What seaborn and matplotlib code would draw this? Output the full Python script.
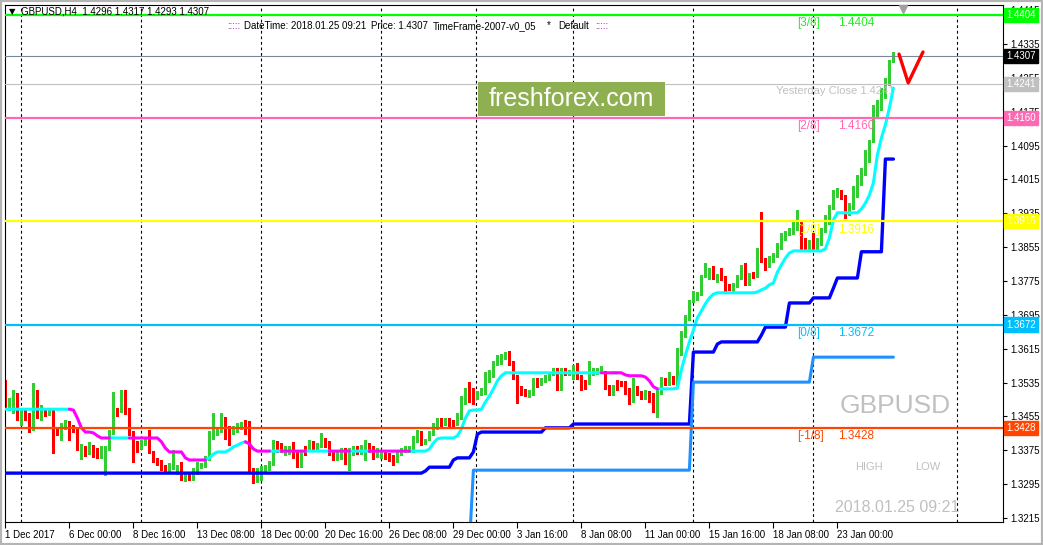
import numpy as np
import pandas as pd
import matplotlib
matplotlib.use("Agg")
import matplotlib.pyplot as plt
from matplotlib.patches import Rectangle
import seaborn as sns

# =========================
# DATA  (GBPUSD H4, 1 Dec 2017 - 25 Jan 2018)
# =========================

opens = [
    1.3534, 1.3477, 1.3475, 1.3506, 1.3439, 1.3465, 1.3458, 1.3428, 1.3506, 1.3451,
    1.3465, 1.3463, 1.3465, 1.3423, 1.3416, 1.3430, 1.3439, 1.3430, 1.3423, 1.3376,
    1.3380, 1.3371, 1.3383, 1.3376, 1.3361, 1.3376, 1.3380, 1.3418, 1.3470, 1.3470,
    1.3513, 1.3470, 1.3416, 1.3392, 1.3383, 1.3392, 1.3395, 1.3369, 1.3352, 1.3347,
    1.3335, 1.3331, 1.3335, 1.3324, 1.3343, 1.3310, 1.3317, 1.3310, 1.3324, 1.3338,
    1.3340, 1.3357, 1.3406, 1.3416, 1.3423, 1.3449, 1.3428, 1.3418, 1.3423, 1.3430,
    1.3439, 1.3439, 1.3328, 1.3305, 1.3310, 1.3328, 1.3333, 1.3345, 1.3392, 1.3387,
    1.3369, 1.3371, 1.3380, 1.3369, 1.3340, 1.3380, 1.3380, 1.3392, 1.3380, 1.3387,
    1.3399, 1.3392, 1.3371, 1.3357, 1.3359, 1.3376, 1.3364, 1.3369, 1.3380, 1.3371,
    1.3371, 1.3387, 1.3380, 1.3364, 1.3361, 1.3369, 1.3364, 1.3359, 1.3352, 1.3369,
    1.3376, 1.3376, 1.3376, 1.3399, 1.3416, 1.3395, 1.3404, 1.3416, 1.3430, 1.3447,
    1.3439, 1.3447, 1.3442, 1.3439, 1.3454, 1.3489, 1.3522, 1.3517, 1.3501, 1.3510,
    1.3513, 1.3541, 1.3553, 1.3581, 1.3584, 1.3595, 1.3600, 1.3581, 1.3548, 1.3522,
    1.3515, 1.3506, 1.3510, 1.3541, 1.3534, 1.3541, 1.3546, 1.3558, 1.3565, 1.3522,
    1.3565, 1.3558, 1.3548, 1.3577, 1.3548, 1.3536, 1.3536, 1.3558, 1.3560, 1.3565,
    1.3558, 1.3525, 1.3510, 1.3536, 1.3534, 1.3534, 1.3517, 1.3494, 1.3522, 1.3510,
    1.3501, 1.3510, 1.3506, 1.3477, 1.3513, 1.3541, 1.3534, 1.3546, 1.3534, 1.3605,
    1.3647, 1.3688, 1.3730, 1.3735, 1.3747, 1.3789, 1.3784, 1.3806, 1.3777, 1.3801,
    1.3782, 1.3763, 1.3754, 1.3766, 1.3784, 1.3813, 1.3770, 1.3792, 1.3789, 1.3844,
    1.3825, 1.3813, 1.3825, 1.3836, 1.3855, 1.3877, 1.3888, 1.3891, 1.3900, 1.3912,
    1.3872, 1.3853, 1.3884, 1.3855, 1.3865, 1.3896, 1.3914, 1.3950, 1.3978, 1.3985,
    1.3974, 1.3936, 1.3950, 1.3983, 1.4009, 1.4033, 1.4066, 1.4108, 1.4174, 1.4186,
    1.4215, 1.4243, 1.4296,
]

highs = [
    1.3541, 1.3498, 1.3517, 1.3510, 1.3475, 1.3470, 1.3463, 1.3534, 1.3517, 1.3482,
    1.3470, 1.3472, 1.3470, 1.3428, 1.3439, 1.3447, 1.3444, 1.3435, 1.3428, 1.3390,
    1.3385, 1.3395, 1.3387, 1.3380, 1.3385, 1.3385, 1.3423, 1.3513, 1.3475, 1.3517,
    1.3517, 1.3475, 1.3420, 1.3397, 1.3399, 1.3402, 1.3423, 1.3373, 1.3357, 1.3352,
    1.3340, 1.3345, 1.3376, 1.3340, 1.3347, 1.3319, 1.3321, 1.3333, 1.3347, 1.3345,
    1.3361, 1.3420, 1.3463, 1.3428, 1.3463, 1.3454, 1.3432, 1.3432, 1.3439, 1.3442,
    1.3447, 1.3444, 1.3333, 1.3333, 1.3338, 1.3340, 1.3350, 1.3399, 1.3397, 1.3392,
    1.3385, 1.3385, 1.3395, 1.3373, 1.3373, 1.3385, 1.3399, 1.3397, 1.3392, 1.3416,
    1.3404, 1.3397, 1.3376, 1.3373, 1.3380, 1.3380, 1.3380, 1.3385, 1.3385, 1.3387,
    1.3399, 1.3392, 1.3385, 1.3380, 1.3373, 1.3373, 1.3369, 1.3364, 1.3373, 1.3380,
    1.3385, 1.3385, 1.3409, 1.3423, 1.3420, 1.3402, 1.3420, 1.3439, 1.3451, 1.3451,
    1.3451, 1.3451, 1.3447, 1.3463, 1.3503, 1.3522, 1.3536, 1.3522, 1.3515, 1.3522,
    1.3560, 1.3565, 1.3586, 1.3600, 1.3603, 1.3607, 1.3610, 1.3586, 1.3553, 1.3527,
    1.3520, 1.3517, 1.3546, 1.3546, 1.3546, 1.3553, 1.3558, 1.3569, 1.3569, 1.3569,
    1.3569, 1.3565, 1.3577, 1.3581, 1.3553, 1.3541, 1.3586, 1.3569, 1.3569, 1.3574,
    1.3562, 1.3529, 1.3529, 1.3541, 1.3539, 1.3539, 1.3522, 1.3546, 1.3527, 1.3515,
    1.3517, 1.3515, 1.3510, 1.3522, 1.3548, 1.3546, 1.3560, 1.3551, 1.3617, 1.3657,
    1.3695, 1.3730, 1.3751, 1.3749, 1.3789, 1.3818, 1.3806, 1.3810, 1.3792, 1.3806,
    1.3787, 1.3768, 1.3770, 1.3789, 1.3813, 1.3818, 1.3794, 1.3796, 1.3853, 1.3938,
    1.3829, 1.3834, 1.3841, 1.3865, 1.3888, 1.3893, 1.3900, 1.3919, 1.3943, 1.3917,
    1.3877, 1.3872, 1.3888, 1.3877, 1.3900, 1.3931, 1.3955, 1.3990, 1.3995, 1.3990,
    1.3978, 1.3959, 1.3999, 1.4026, 1.4042, 1.4085, 1.4108, 1.4191, 1.4203, 1.4231,
    1.4255, 1.4297, 1.4317,
]

lows = [
    1.3475, 1.3470, 1.3463, 1.3447, 1.3435, 1.3447, 1.3418, 1.3423, 1.3451, 1.3447,
    1.3456, 1.3458, 1.3369, 1.3411, 1.3399, 1.3425, 1.3399, 1.3418, 1.3376, 1.3354,
    1.3361, 1.3366, 1.3359, 1.3357, 1.3357, 1.3317, 1.3376, 1.3413, 1.3456, 1.3465,
    1.3461, 1.3411, 1.3347, 1.3371, 1.3378, 1.3387, 1.3369, 1.3347, 1.3340, 1.3328,
    1.3324, 1.3326, 1.3331, 1.3319, 1.3305, 1.3302, 1.3305, 1.3305, 1.3319, 1.3333,
    1.3335, 1.3352, 1.3402, 1.3411, 1.3418, 1.3402, 1.3387, 1.3413, 1.3418, 1.3425,
    1.3413, 1.3324, 1.3298, 1.3300, 1.3305, 1.3324, 1.3328, 1.3340, 1.3371, 1.3371,
    1.3364, 1.3366, 1.3357, 1.3335, 1.3335, 1.3364, 1.3376, 1.3376, 1.3376, 1.3383,
    1.3383, 1.3364, 1.3352, 1.3352, 1.3354, 1.3343, 1.3328, 1.3364, 1.3366, 1.3366,
    1.3352, 1.3371, 1.3354, 1.3359, 1.3357, 1.3354, 1.3350, 1.3340, 1.3347, 1.3364,
    1.3371, 1.3371, 1.3371, 1.3395, 1.3387, 1.3390, 1.3399, 1.3411, 1.3425, 1.3430,
    1.3435, 1.3428, 1.3430, 1.3435, 1.3449, 1.3484, 1.3489, 1.3484, 1.3496, 1.3506,
    1.3508, 1.3536, 1.3548, 1.3577, 1.3579, 1.3591, 1.3577, 1.3543, 1.3487, 1.3506,
    1.3503, 1.3501, 1.3506, 1.3525, 1.3529, 1.3536, 1.3541, 1.3553, 1.3517, 1.3517,
    1.3553, 1.3553, 1.3543, 1.3543, 1.3517, 1.3520, 1.3532, 1.3553, 1.3555, 1.3560,
    1.3520, 1.3506, 1.3506, 1.3517, 1.3527, 1.3508, 1.3484, 1.3489, 1.3506, 1.3496,
    1.3496, 1.3489, 1.3465, 1.3454, 1.3508, 1.3529, 1.3529, 1.3532, 1.3529, 1.3600,
    1.3643, 1.3683, 1.3725, 1.3730, 1.3742, 1.3784, 1.3780, 1.3780, 1.3773, 1.3777,
    1.3749, 1.3754, 1.3749, 1.3761, 1.3780, 1.3766, 1.3766, 1.3782, 1.3784, 1.3820,
    1.3801, 1.3808, 1.3820, 1.3832, 1.3851, 1.3872, 1.3884, 1.3886, 1.3896, 1.3848,
    1.3848, 1.3848, 1.3851, 1.3851, 1.3860, 1.3891, 1.3910, 1.3945, 1.3974, 1.3969,
    1.3924, 1.3931, 1.3945, 1.3974, 1.4002, 1.4026, 1.4056, 1.4104, 1.4165, 1.4179,
    1.4207, 1.4238, 1.4293,
]

closes = [
    1.3482, 1.3489, 1.3506, 1.3454, 1.3470, 1.3454, 1.3428, 1.3506, 1.3458, 1.3470,
    1.3463, 1.3465, 1.3418, 1.3418, 1.3435, 1.3439, 1.3428, 1.3423, 1.3380, 1.3385,
    1.3369, 1.3390, 1.3369, 1.3364, 1.3380, 1.3380, 1.3418, 1.3470, 1.3463, 1.3510,
    1.3465, 1.3416, 1.3392, 1.3376, 1.3392, 1.3395, 1.3371, 1.3352, 1.3345, 1.3333,
    1.3328, 1.3340, 1.3343, 1.3335, 1.3310, 1.3314, 1.3310, 1.3328, 1.3343, 1.3340,
    1.3357, 1.3416, 1.3418, 1.3423, 1.3451, 1.3406, 1.3406, 1.3428, 1.3435, 1.3435,
    1.3418, 1.3328, 1.3305, 1.3328, 1.3333, 1.3335, 1.3345, 1.3395, 1.3376, 1.3376,
    1.3380, 1.3380, 1.3369, 1.3340, 1.3369, 1.3369, 1.3395, 1.3380, 1.3387, 1.3402,
    1.3387, 1.3369, 1.3357, 1.3369, 1.3376, 1.3347, 1.3376, 1.3380, 1.3371, 1.3383,
    1.3387, 1.3376, 1.3359, 1.3376, 1.3369, 1.3359, 1.3357, 1.3345, 1.3369, 1.3376,
    1.3380, 1.3380, 1.3404, 1.3416, 1.3392, 1.3397, 1.3416, 1.3435, 1.3442, 1.3435,
    1.3447, 1.3435, 1.3435, 1.3458, 1.3498, 1.3510, 1.3494, 1.3489, 1.3510, 1.3517,
    1.3543, 1.3553, 1.3581, 1.3595, 1.3598, 1.3603, 1.3581, 1.3548, 1.3522, 1.3510,
    1.3508, 1.3513, 1.3541, 1.3529, 1.3541, 1.3548, 1.3553, 1.3565, 1.3522, 1.3565,
    1.3558, 1.3560, 1.3572, 1.3548, 1.3522, 1.3525, 1.3581, 1.3565, 1.3565, 1.3569,
    1.3525, 1.3510, 1.3525, 1.3522, 1.3532, 1.3513, 1.3489, 1.3541, 1.3510, 1.3501,
    1.3513, 1.3494, 1.3482, 1.3517, 1.3541, 1.3534, 1.3541, 1.3536, 1.3612, 1.3652,
    1.3690, 1.3725, 1.3747, 1.3744, 1.3784, 1.3806, 1.3801, 1.3784, 1.3787, 1.3784,
    1.3761, 1.3758, 1.3766, 1.3784, 1.3808, 1.3770, 1.3789, 1.3787, 1.3848, 1.3825,
    1.3813, 1.3829, 1.3836, 1.3860, 1.3872, 1.3888, 1.3896, 1.3903, 1.3912, 1.3853,
    1.3853, 1.3867, 1.3855, 1.3872, 1.3896, 1.3926, 1.3950, 1.3985, 1.3990, 1.3974,
    1.3936, 1.3955, 1.3983, 1.4014, 1.4037, 1.4073, 1.4101, 1.4179, 1.4191, 1.4222,
    1.4243, 1.4292, 1.4307,
]

# trailing stop indicator (cyan = up, magenta = down)
trail = ([1.3472] * 17
         + [1.3470, 1.3451, 1.3428, 1.3418, 1.3418, 1.3416, 1.3409]
         + [1.3404] * 15 + [1.3395, 1.3380] + [1.3371] * 4 + [1.3357] + [1.3352] * 5
         + [1.3357, 1.3366, 1.3371, 1.3371, 1.3371, 1.3376, 1.3383, 1.3387, 1.3392, 1.3395, 1.3390, 1.3378]
         + [1.3373] * 43 + [1.3378, 1.3392, 1.3402] + [1.3404] * 4
         + [1.3409, 1.3425, 1.3451, 1.3468, 1.3470, 1.3470, 1.3472, 1.3489, 1.3503, 1.3520, 1.3539, 1.3551]
         + [1.3558] * 30 + [1.3553, 1.3551, 1.3551, 1.3551, 1.3551, 1.3548, 1.3539, 1.3525]
         + [1.3520] * 5
         + [1.3522, 1.3565, 1.3600, 1.3631, 1.3659, 1.3688, 1.3704, 1.3721, 1.3735, 1.3744]
         + [1.3747] * 10 + [1.3749, 1.3754, 1.3758, 1.3766, 1.3770, 1.3796, 1.3813, 1.3829, 1.3841]
         + [1.3846] * 8 + [1.3851, 1.3877, 1.3919] + [1.3936] * 6
         + [1.3945, 1.3959, 1.3978, 1.4007, 1.4073, 1.4113, 1.4144, 1.4184, 1.4231])

trend_runs = [("U", 17), ("D", 10), ("U", 5), ("D", 19), ("U", 10), ("D", 6), ("U", 3),
              ("D", 6), ("U", 6), ("D", 5), ("U", 5), ("D", 10), ("U", 48), ("D", 3),
              ("U", 1), ("D", 10), ("U", 59)]

# lower step bands
blue_band = ([1.3321] * 105 + [1.3326] + [1.3335] * 6 + [1.3352] + [1.3357] * 4 + [1.3371, 1.3413]
             + [1.3418] * 16 + [1.3428] * 7 + [1.3437] * 30 + [1.3607] * 6 + [1.3626]
             + [1.3631] * 10 + [1.3647] + [1.3666] * 6 + [1.3723] * 6 + [1.3735] * 5 + [1.3758]
             + [1.3782] * 6 + [1.3844] * 6 + [1.4063] * 3)
dodger_band = [np.nan] * 116 + [1.3150] + [1.3328] * 55 + [1.3536] * 30 + [1.3595] * 21

# horizontal levels
levels = [1.4404, 1.4307, 1.4241, 1.4160, 1.3916, 1.3672, 1.3428]
level_colors = ["#00ff00", "#778899", "#c0c0c0", "#ff69b4", "#ffff00", "#00bfff", "#ff4500"]
level_widths = [1.6, 0.8, 0.8, 1.6, 1.6, 1.6, 1.6]
level_box_colors = ["#00ff00", "#000000", "#c0c0c0", "#ff69b4", "#ffff00", "#00bfff", "#ff4500"]

murrey_names = ["[3/8]", "[2/8]", "[1/8]", "[0/8]", "[-1/8]"]
murrey_levels = [1.4404, 1.4160, 1.3916, 1.3672, 1.3428]
murrey_colors = ["#22ee22", "#ff69b4", "#ffff00", "#00bfff", "#ff4500"]

price_ticks = [1.3215, 1.3295, 1.3375, 1.3455, 1.3535, 1.3615, 1.3695, 1.3775,
               1.3855, 1.3935, 1.4015, 1.4095, 1.4175, 1.4255, 1.4335, 1.4415]
date_ticks = [0, 16, 32, 48, 64, 80, 96, 112, 128, 144, 160, 176, 192, 208]
date_labels = ["1 Dec 2017", "6 Dec 00:00", "8 Dec 16:00", "13 Dec 08:00", "18 Dec 00:00",
               "20 Dec 16:00", "26 Dec 08:00", "29 Dec 00:00", "3 Jan 16:00", "8 Jan 08:00",
               "11 Jan 00:00", "15 Jan 16:00", "18 Jan 08:00", "23 Jan 00:00"]
grid_bars = [4, 34, 64, 94, 117.7, 142, 172, 202, 238]

check_x = [223.4, 225.7, 229.4]
check_y = [1.4311, 1.4243, 1.4316]

# =========================
# FIGURE
# =========================

sns.set_style("white")
plt.rcParams["font.family"] = ["Liberation Sans", "DejaVu Sans"]

df = pd.DataFrame({"bar": np.arange(len(closes)), "open": opens, "high": highs, "low": lows,
                   "close": closes, "trail": trail, "blue": blue_band, "dodger": dodger_band})
trend = np.array([t for t, n in trend_runs for _ in range(n)])

fig = plt.figure(figsize=(10.43, 5.45), dpi=100)
fig.patch.set_facecolor("white")
ax = fig.add_axes([5 / 1043, 23 / 545, 998 / 1043, 517 / 545])
ax.set_facecolor("white")
ax.set_xlim(-0.1, 249.4)
ax.set_ylim(1.32055, 1.4427)

for gb in grid_bars:
    ax.axvline(gb, color="black", lw=0.8, ls=(0, (2.5, 2.5)), zorder=0.5)

# candles
bull = (df["close"] >= df["open"]).values
cols = np.where(bull, "#32cd32", "#ff0000")
ax.vlines(df["bar"], df["low"], df["high"], colors=cols, linewidth=0.75,
          antialiased=False, zorder=2)
body_low = np.minimum(df["open"], df["close"])
body_h = np.maximum((df["close"] - df["open"]).abs(), 0.00018)
ax.bar(df["bar"], body_h, bottom=body_low, width=0.78, color=cols, linewidth=0,
       antialiased=False, zorder=2.1)

# trailing line
is_up = trend == "U"
show_up = is_up | np.append(is_up[1:], False)
show_dn = ~is_up | np.append(~is_up[1:], False)
ax.plot(df["bar"], np.where(show_up, df["trail"], np.nan), color="#00ffff", lw=2.2, zorder=3)
ax.plot(df["bar"], np.where(show_dn, df["trail"], np.nan), color="#ff00ff", lw=2.2, zorder=3.1)

# step bands
sns.lineplot(data=df, x="bar", y="blue", color="#0000ff", linewidth=2.4,
             estimator=None, sort=False, ax=ax, zorder=3.2)
sns.lineplot(data=df.dropna(subset=["dodger"]), x="bar", y="dodger", color="#1e90ff",
             linewidth=2.2, estimator=None, sort=False, ax=ax, zorder=3.2)

# horizontal levels + right-hand price boxes
for lv, c, w, bc in zip(levels, level_colors, level_widths, level_box_colors):
    ax.axhline(lv, color=c, lw=w, zorder=4)
    ax.annotate(f"{lv:.4f}", xy=(1, lv), xycoords=("axes fraction", "data"),
                xytext=(2.4, 0), textcoords="offset points", ha="left", va="center",
                color="white", fontsize=7, annotation_clip=False, zorder=6,
                bbox=dict(boxstyle="square,pad=0.22", fc=bc, ec=bc))

for name, lv, c in zip(murrey_names, murrey_levels, murrey_colors):
    ax.text(197.9, lv - 0.0020, name, color=c, fontsize=8.5, va="center", ha="left", zorder=5)
    ax.text(208.2, lv - 0.0020, f"{lv:.4f}", color=c, fontsize=8.5, va="center", ha="left", zorder=5)

ax.text(192.7, 1.4241 - 0.0017, "Yesterday Close 1.4241", color="#c0c0c0", fontsize=8,
        va="center", ha="left", zorder=5)

ax.plot(check_x, check_y, color="#ff0000", lw=2.4, clip_on=False, zorder=6)
ax.plot([224.4], [0.992], marker="v", ms=6, color="#a0a0a0",
        transform=ax.get_xaxis_transform(), clip_on=False, zorder=6)

# axes
ax.yaxis.tick_right()
ax.set_yticks(price_ticks)
ax.set_yticklabels([f"{v:.4f}" for v in price_ticks])
ax.set_xticks(date_ticks)
ax.set_xticklabels(date_labels)
for lbl in ax.get_xticklabels():
    lbl.set_ha("left")
ax.tick_params(axis="y", which="both", right=True, left=False, length=3, width=0.8,
               pad=2, labelsize=7, colors="black", direction="out")
ax.tick_params(axis="x", bottom=True, length=4, width=0.8, pad=2, labelsize=7,
               colors="black", direction="out")
ax.set_xlabel("")
ax.set_ylabel("")
for sp in ax.spines.values():
    sp.set_color("black")
    sp.set_linewidth(0.8)

# header / watermark texts
fig.text(12 / 1043, 1 - 12 / 545, "\u25bc", fontsize=6, color="black", ha="center", va="center",
         family=["DejaVu Sans"])
fig.text(21 / 1043, 1 - 11 / 545, "GBPUSD,H4  1.4296 1.4317 1.4293 1.4307", fontsize=7,
         color="black", va="center")
fig.text(227 / 1043, 1 - 26 / 545, ":::::", fontsize=7, color="#800080", va="center")
fig.text(244 / 1043, 1 - 26 / 545, "DateTime: 2018.01.25 09:21", fontsize=7, color="black", va="center")
fig.text(371 / 1043, 1 - 26 / 545, "Price: 1.4307", fontsize=7, color="black", va="center")
fig.text(433 / 1043, 1 - 26 / 545, "TimeFrame-2007-v0_05", fontsize=7, color="black", va="center")
fig.text(547 / 1043, 1 - 25 / 545, "*", fontsize=7, color="black", va="center")
fig.text(558 / 1043, 1 - 26 / 545, "Default", fontsize=7, color="black", va="center")
fig.text(595 / 1043, 1 - 26 / 545, ":::::", fontsize=7, color="#800080", va="center")

fig.patches.append(Rectangle((478 / 1043, 1 - 116 / 545), 187 / 1043, 34 / 545,
                             transform=fig.transFigure, fc="#8fb050", ec="none", zorder=7))
fig.text(571 / 1043, 1 - 99 / 545, "freshforex.com", fontsize=18, color="white",
         ha="center", va="center", zorder=8)

fig.text(840 / 1043, 1 - 406 / 545, "GBPUSD", fontsize=19, color="#c0c0c0", va="center")
fig.text(855 / 1043, 1 - 467 / 545, "HIGH", fontsize=8, color="#c0c0c0", va="center")
fig.text(915 / 1043, 1 - 467 / 545, "LOW", fontsize=8, color="#c0c0c0", va="center")
fig.text(835 / 1043, 1 - 507 / 545, "2018.01.25 09:21", fontsize=11.5, color="#c0c0c0", va="center")

fig.patches.append(Rectangle((0, 0), 1, 1, transform=fig.transFigure, fill=False,
                             ec="#b4b4b4", lw=3, zorder=10))

fig.savefig("out.png", dpi=100)
